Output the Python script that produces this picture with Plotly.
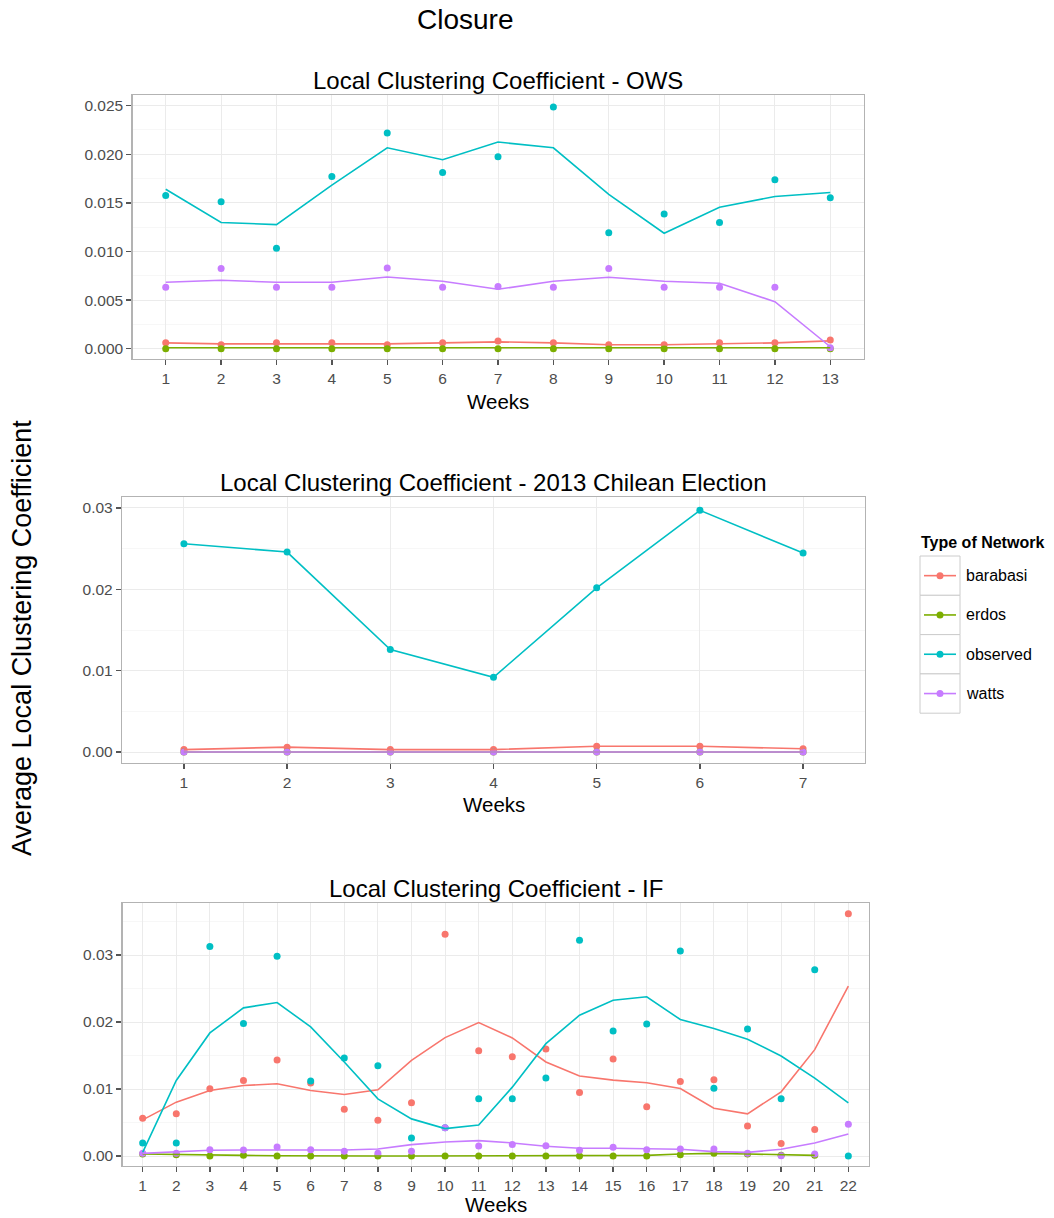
import plotly.graph_objects as go

W, H = 1054, 1218

COLORS = {"barabasi": "#F8766D", "erdos": "#7CAE00", "observed": "#00BFC4", "watts": "#C77CFF"}
SERIES = ["barabasi", "erdos", "observed", "watts"]

# ---------------- OWS (13 weeks) ----------------
ows_weeks = list(range(1, 14))
ows_pts = {
    "barabasi": [0.0006, 0.0004, 0.0006, 0.0006, 0.0004, 0.0006, 0.0008, 0.0006, 0.0004, 0.0004, 0.0006, 0.0006, 0.0009],
    "erdos":    [0.0] * 13,
    "observed": [0.01576, 0.01511, 0.01034, 0.01772, 0.02218, 0.01813, 0.01975, 0.02486, 0.01192, 0.01387, 0.01298, 0.01738, 0.01552],
    "watts":    [0.00632, 0.00824, 0.00632, 0.00632, 0.00831, 0.00632, 0.00639, 0.00632, 0.00824, 0.00632, 0.00632, 0.00632, 0.0001],
}
ows_fit = {
    "barabasi": [0.0006, 0.0005, 0.0005, 0.0005, 0.0005, 0.0006, 0.0007, 0.0006, 0.0004, 0.0004, 0.0005, 0.0006, 0.0008],
    "erdos":    [0.0001] * 13,
    "observed": [0.01641, 0.01298, 0.01277, 0.01683, 0.02067, 0.01944, 0.02126, 0.02067, 0.01587, 0.01188, 0.01456, 0.01566, 0.01607],
    "watts":    [0.00683, 0.00704, 0.00683, 0.00683, 0.00738, 0.00694, 0.00611, 0.00694, 0.00735, 0.00694, 0.00673, 0.00484, 0.0002],
}

# ---------------- Chilean election (7 weeks) ----------------
chi_weeks = list(range(1, 8))
chi_pts = {
    "barabasi": [0.0003, 0.0006, 0.0003, 0.0003, 0.0007, 0.0007, 0.0004],
    "erdos":    [0.0] * 7,
    "observed": [0.02561, 0.02458, 0.0126, 0.00919, 0.02019, 0.02971, 0.02446],
    "watts":    [0.0] * 7,
}
chi_fit = {
    "barabasi": [0.0003, 0.0006, 0.0003, 0.0003, 0.0007, 0.0007, 0.0004],
    "erdos":    [0.0] * 7,
    "observed": [0.02561, 0.02458, 0.0126, 0.00919, 0.02019, 0.02971, 0.02446],
    "watts":    [0.0] * 7,
}

# ---------------- IF (22 weeks) ----------------
if_weeks = list(range(1, 23))
if_pts = {
    "barabasi": [0.00564, 0.00629, 0.01003, 0.01128, 0.01433, 0.01088, 0.00699, 0.00534, 0.00794, 0.0331, 0.01572,
                 0.01483, 0.01597, 0.00948, 0.01448, 0.00734, 0.01113, 0.01138, 0.00449, 0.00185, 0.00394, 0.03614],
    "erdos":    [0.0003, 0.0002, 0.0, 0.0001, 0.0, 0.0, 0.0, 0.0, 0.0, 0.0, 0.0,
                 0.0, 0.0, 0.0, 0.0, 0.0, 0.0002, 0.0004, 0.0003, 0.0001, 0.0001],
    "observed": [0.00195, 0.00195, 0.03125, 0.01977, 0.0298, 0.01118, 0.01463, 0.01348, 0.0027, 0.0042, 0.00853,
                 0.00853, 0.01163, 0.0322, 0.01867, 0.01972, 0.0306, 0.01013, 0.01897, 0.00853, 0.0278, 0.0],
    "watts":    [0.0004, 0.0004, 0.00095, 0.0009, 0.00135, 0.00095, 0.0007, 0.0004, 0.0007, 0.0042, 0.0015,
                 0.0017, 0.00155, 0.00085, 0.0013, 0.00095, 0.00105, 0.00105, 0.0004, 0.00005, 0.0003, 0.00474],
}
if_fit = {
    "barabasi": [0.00539, 0.00804, 0.00978, 0.01053, 0.01078, 0.00978, 0.00918, 0.00988, 0.01428, 0.01767, 0.01992,
                 0.01762, 0.01403, 0.01193, 0.01133, 0.01093, 0.01008, 0.00714, 0.00629, 0.00958, 0.01587, 0.02536],
    "erdos":    [0.0003, 0.0002, 0.0001, 0.0001, 0.00005, 0.0, 0.0, 0.0, 0.0, 0.0, 0.0,
                 0.0, 0.0, 0.0, 0.0, 0.0001, 0.0003, 0.0004, 0.0003, 0.0002, 0.0001],
    "observed": [0.00055, 0.01128, 0.01837, 0.02211, 0.02291, 0.01927, 0.01403, 0.00853, 0.00554, 0.00409, 0.00464,
                 0.01028, 0.01677, 0.02101, 0.02326, 0.02376, 0.02037, 0.01902, 0.01742, 0.01493, 0.01163, 0.00794],
    "watts":    [0.0004, 0.0006, 0.00085, 0.0009, 0.00095, 0.0009, 0.0009, 0.00105, 0.0017, 0.0021, 0.0023,
                 0.00195, 0.00145, 0.00115, 0.00115, 0.00105, 0.001, 0.00065, 0.00055, 0.001, 0.00195, 0.0033],
}

main_title = "Closure"
y_title = "Average Local Clustering Coefficient"
panel_titles = ["Local Clustering Coefficient - OWS",
                "Local Clustering Coefficient - 2013 Chilean Election",
                "Local Clustering Coefficient - IF"]
x_title = "Weeks"
legend_title = "Type of Network"

FONT = "Liberation Sans, Arial, sans-serif"
TICK_FONT = dict(size=15.5, color="#4D4D4D", family=FONT)

def px_x(v):
    return v / W

def px_y(v):
    return 1 - v / H

# panel boxes in pixels: left, right, top, bottom; plus x-title offset
panels = [
    dict(box=(132.5, 863.5, 95, 359), xt=43, weeks=ows_weeks, pts=ows_pts, fit=ows_fit,
         yr=[-0.00106, 0.0261], dtick=0.005, fmt=".3f", xr=[0.4, 13.6]),
    dict(box=(122, 865, 497, 763), xt=41, weeks=chi_weeks, pts=chi_pts, fit=chi_fit,
         yr=[-0.00135, 0.03135], dtick=0.01, fmt=".2f", xr=[0.4, 7.6]),
    dict(box=(122.5, 868.5, 903, 1166), xt=38, weeks=if_weeks, pts=if_pts, fit=if_fit,
         yr=[-0.00149, 0.03776], dtick=0.01, fmt=".2f", xr=[0.4, 22.6]),
]

fig = go.Figure()
layout = dict(
    width=W, height=H, margin=dict(l=0, r=0, t=0, b=0),
    paper_bgcolor="white", plot_bgcolor="white", showlegend=False,
    font=dict(family=FONT, color="#000000"),
)
annotations = []
shapes = []

for i, p in enumerate(panels):
    n = "" if i == 0 else str(i + 1)
    xa, ya = "x" + n, "y" + n
    l, r, t, b = p["box"]
    for s in SERIES:
        wk = p["weeks"][:len(p["pts"][s])]
        fig.add_trace(go.Scatter(x=wk, y=p["pts"][s], mode="markers", xaxis=xa, yaxis=ya,
                                 marker=dict(color=COLORS[s], size=7), hoverinfo="skip"))
    for s in SERIES:
        wk = p["weeks"][:len(p["fit"][s])]
        fig.add_trace(go.Scatter(x=wk, y=p["fit"][s], mode="lines", xaxis=xa, yaxis=ya,
                                 line=dict(color=COLORS[s], width=1.6), hoverinfo="skip"))
    layout["xaxis" + n] = dict(
        domain=[px_x(l), px_x(r)], anchor=ya, range=p["xr"],
        tickmode="array", tickvals=p["weeks"], ticktext=[str(w) for w in p["weeks"]],
        showgrid=True, gridcolor="#EBEBEB", gridwidth=1, zeroline=False,
        ticks="outside", ticklen=5, tickcolor="#555555", tickwidth=1.3,
        tickfont=TICK_FONT,
        showline=True, linecolor="#B3B3B3", linewidth=1.2, mirror=True,
        fixedrange=True,
    )
    layout["yaxis" + n] = dict(
        domain=[px_y(b), px_y(t)], anchor=xa, range=p["yr"],
        tick0=0, dtick=p["dtick"], tickformat=p["fmt"],
        showgrid=True, gridcolor="#EBEBEB", gridwidth=1, zeroline=False,
        minor=dict(showgrid=True, gridcolor="#F7F7F7", gridwidth=1, dtick=p["dtick"] / 2, tick0=p["dtick"] / 2),
        ticks="outside", ticklen=5, tickcolor="#555555", tickwidth=1.3,
        tickfont=TICK_FONT,
        showline=True, linecolor="#B3B3B3", linewidth=1.2, mirror=True,
        fixedrange=True,
    )
    cx = (l + r) / 2
    annotations.append(dict(text=panel_titles[i], x=px_x(cx), y=px_y(t - 15), xref="paper", yref="paper",
                            xanchor="center", yanchor="middle", showarrow=False,
                            font=dict(size=24, color="#000000", family=FONT)))
    annotations.append(dict(text=x_title, x=px_x(cx), y=px_y(b + p["xt"]), xref="paper", yref="paper",
                            xanchor="center", yanchor="middle", showarrow=False,
                            font=dict(size=20.5, color="#000000", family=FONT)))

annotations.append(dict(text=main_title, x=px_x(465), y=px_y(20), xref="paper", yref="paper",
                        xanchor="center", yanchor="middle", showarrow=False,
                        font=dict(size=28, color="#000000", family=FONT)))
annotations.append(dict(text=y_title, x=px_x(22), y=px_y(638), xref="paper", yref="paper",
                        xanchor="center", yanchor="middle", showarrow=False, textangle=-90,
                        font=dict(size=27, color="#000000", family=FONT)))

# legend (ggplot-style key boxes)
annotations.append(dict(text="<b>" + legend_title + "</b>", x=px_x(919), y=px_y(542), xref="paper", yref="paper",
                        xanchor="left", yanchor="middle", showarrow=False,
                        font=dict(size=16, color="#000000", family=FONT)))
key_top = 556
key_h = 39.3
for k, s in enumerate(SERIES):
    y0 = key_top + k * key_h
    y1 = y0 + key_h
    yc = (y0 + y1) / 2
    shapes.append(dict(type="rect", xref="paper", yref="paper", x0=px_x(920), x1=px_x(960),
                       y0=px_y(y1), y1=px_y(y0), line=dict(color="#CCCCCC", width=1), fillcolor="white"))
    shapes.append(dict(type="line", xref="paper", yref="paper", x0=px_x(924), x1=px_x(956),
                       y0=px_y(yc), y1=px_y(yc), line=dict(color=COLORS[s], width=1.6)))
    shapes.append(dict(type="circle", xref="paper", yref="paper", x0=px_x(936.5), x1=px_x(943.5),
                       y0=px_y(yc + 3.5), y1=px_y(yc - 3.5), line=dict(color=COLORS[s], width=0),
                       fillcolor=COLORS[s]))
    annotations.append(dict(text=s, x=px_x(964), y=px_y(yc), xref="paper", yref="paper",
                            xanchor="left", yanchor="middle", showarrow=False,
                            font=dict(size=16, color="#000000", family=FONT)))

layout["annotations"] = annotations
layout["shapes"] = shapes
fig.update_layout(**layout)
fig.write_html("out.html", config={"displayModeBar": False, "staticPlot": True},
               post_script="document.body.style.margin='0';document.body.style.padding='0';"
                           "document.body.style.overflow='hidden';")
